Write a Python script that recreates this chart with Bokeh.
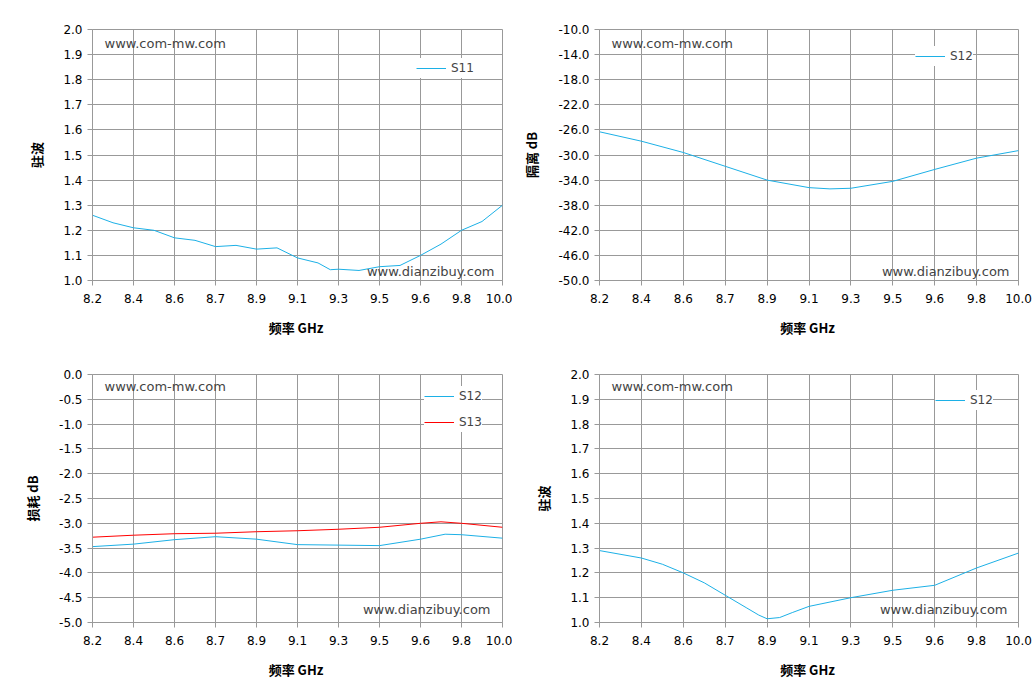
from bokeh.plotting import figure
from bokeh.layouts import gridplot
from bokeh.models import Label, Legend, LegendItem, FixedTicker, Range1d
from bokeh.embed import file_html
from bokeh.resources import INLINE

xlabels = ["8.2","8.4","8.6","8.7","8.9","9.1","9.3","9.5","9.6","9.8","10.0"]

s11_x = [0,0.5,1,1.5,2,2.5,3,3.5,4,4.5,5,5.5,5.8,6,6.5,7,7.5,8,8.5,9,9.5,10]
s11_y = [1.26,1.23,1.21,1.20,1.17,1.16,1.135,1.14,1.125,1.13,1.09,1.07,1.043,1.045,1.04,1.055,1.06,1.10,1.145,1.20,1.235,1.30]

iso_x = [0,1,2,3,4,5,5.5,6,7,8,9,10]
iso_y = [-26.3,-27.8,-29.6,-31.8,-34.0,-35.2,-35.4,-35.3,-34.2,-32.3,-30.5,-29.3]

il12_x = [0,1,2,3,4,5,6,7,8,8.6,9,10]
il12_y = [-3.47,-3.42,-3.33,-3.27,-3.32,-3.43,-3.44,-3.45,-3.32,-3.22,-3.23,-3.30]
il13_x = [0,1,2,3,4,5,6,7,8,8.5,9,10]
il13_y = [-3.28,-3.24,-3.21,-3.20,-3.17,-3.15,-3.12,-3.08,-3.0,-2.97,-3.0,-3.08]

vs12_x = [0,1,1.5,2,2.5,3,3.5,3.8,4,4.3,4.6,5,6,7,8,9,10]
vs12_y = [1.29,1.26,1.235,1.20,1.16,1.11,1.06,1.03,1.015,1.02,1.04,1.065,1.10,1.13,1.15,1.22,1.28]

BLUE = "#1cb0e6"
RED = "#ff0000"
GRID = "#999999"

def make(ylo, yhi, ystep, ylabel, fmt, bl, bt, fw, fh, br, bb):
    p = figure(frame_width=fw, frame_height=fh, min_border_left=bl, min_border_top=bt,
               min_border_right=br, min_border_bottom=bb,
               x_range=Range1d(0, 10), y_range=Range1d(ylo, yhi),
               output_backend="svg", toolbar_location=None)
    n = int(round((yhi - ylo) / ystep))
    ticks = [ylo + i * ystep for i in range(n + 1)]
    p.yaxis.ticker = FixedTicker(ticks=ticks)
    p.yaxis.major_label_overrides = {t: fmt.format(t) for t in ticks}
    p.xaxis.ticker = FixedTicker(ticks=list(range(11)))
    p.xaxis.major_label_overrides = {i: l for i, l in enumerate(xlabels)}
    for ax in (p.xaxis, p.yaxis):
        ax.axis_line_color = GRID
        ax.major_tick_line_color = GRID
        ax.minor_tick_line_color = None
        ax.major_tick_in = 0
        ax.major_tick_out = 5
        ax.major_label_text_font = "DejaVu Sans"
        ax.major_label_text_font_size = "12px"
        ax.major_label_text_color = "#000000"
        ax.axis_label_text_font = "Noto Sans CJK SC"
        ax.axis_label_text_font_style = "bold"
        ax.axis_label_text_font_size = "13px"
        ax.axis_label_text_color = "#000000"
    p.xaxis.axis_label = "频率  GHz"
    p.yaxis.axis_label = ylabel
    p.xaxis.major_label_standoff = 8
    p.xaxis.axis_label_standoff = 12
    p.yaxis.axis_label_standoff = 14
    p.xgrid.grid_line_color = GRID
    p.ygrid.grid_line_color = GRID
    p.xgrid.ticker = FixedTicker(ticks=list(range(11)))
    p.ygrid.ticker = FixedTicker(ticks=ticks)
    p.outline_line_color = GRID
    p.background_fill_color = "white"
    p.border_fill_color = "white"
    return p

def marks(p, top_off, bx, by):
    p.add_layout(Label(x=12, y=p.frame_height - top_off, x_units="screen", y_units="screen",
                       text="www.com-mw.com", text_font="DejaVu Sans", text_font_size="13px",
                       text_baseline="top"))
    p.add_layout(Label(x=bx, y=by, x_units="screen", y_units="screen",
                       text="www.dianzibuy.com", text_font="DejaVu Sans", text_font_size="13px",
                       text_align="right", text_baseline="bottom"))

def legend(p, items, lx, ly, spacing=10):
    lg = Legend(items=items, location=(lx, ly), background_fill_color="white",
                background_fill_alpha=1, border_line_color=None,
                label_text_font="DejaVu Sans", label_text_font_size="12px",
                glyph_width=30, spacing=spacing, padding=10, margin=0)
    p.add_layout(lg)

p1 = make(1.0, 2.0, 0.1, "驻波", "{:.1f}", 92, 29, 410, 251, 10, 60)
r = p1.line(s11_x, s11_y, color=BLUE, line_width=1)
marks(p1, 6, 402, 2)
legend(p1, [LegendItem(label="S11", renderers=[r])], 324, 202)

p2 = make(-50, -10, 4, "隔离 dB", "{:.1f}", 87, 29, 419, 251, 14, 60)
r = p2.line(iso_x, iso_y, color=BLUE, line_width=1)
marks(p2, 6, 410, 2)
legend(p2, [LegendItem(label="S12", renderers=[r])], 316, 214)

p3 = make(-5, 0, 0.5, "损耗 dB", "{:.1f}", 92, 34, 410, 248, 10, 58)
ra = p3.line(il12_x, il12_y, color=BLUE, line_width=1)
rb = p3.line(il13_x, il13_y, color=RED, line_width=1)
marks(p3, 4, 398, 6)
legend(p3, [LegendItem(label="S12", renderers=[ra]), LegendItem(label="S13", renderers=[rb])], 332, 190, spacing=6)

p4 = make(1.0, 2.0, 0.1, "驻波", "{:.1f}", 87, 34, 419, 248, 14, 58)
r = p4.line(vs12_x, vs12_y, color=BLUE, line_width=1)
marks(p4, 4, 408, 6)
legend(p4, [LegendItem(label="S12", renderers=[r])], 336, 212)

g = gridplot([[p1, p2], [p3, p4]], toolbar_location=None)
open("out.html", "w").write(file_html(g, INLINE))
